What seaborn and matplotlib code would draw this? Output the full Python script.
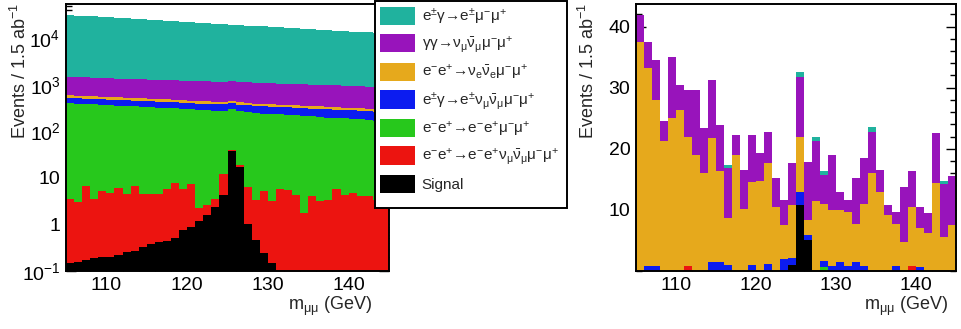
import numpy as np
import pandas as pd
import matplotlib
matplotlib.use("Agg")
import matplotlib.pyplot as plt
from matplotlib.patches import Patch, Rectangle
from matplotlib.ticker import FixedLocator, MultipleLocator, LogLocator, FuncFormatter, NullFormatter
import seaborn as sns

# ---------------------------------------------------------------- data
edges = [105.0 + i for i in range(41)]          # 1 GeV bins, 105-145 GeV
centers = [e + 0.5 for e in edges[:-1]]

processes = [
    r"e$^{\pm}$γ→e$^{\pm}$μ$^{-}$μ$^{+}$",
    r"γγ→ν$_{\mathregular{\mu}}\mathregular{\bar{\nu}_{\mu}}$μ$^{-}$μ$^{+}$",
    r"e$^{-}$e$^{+}$→ν$_{\mathregular{e}}\mathregular{\bar{\nu}_{e}}$μ$^{-}$μ$^{+}$",
    r"e$^{\pm}$γ→e$^{\pm}$ν$_{\mathregular{\mu}}\mathregular{\bar{\nu}_{\mu}}$μ$^{-}$μ$^{+}$",
    r"e$^{-}$e$^{+}$→e$^{-}$e$^{+}$μ$^{-}$μ$^{+}$",
    r"e$^{-}$e$^{+}$→e$^{-}$e$^{+}$ν$_{\mathregular{\mu}}\mathregular{\bar{\nu}_{\mu}}$μ$^{-}$μ$^{+}$",
    "Signal",
]
colors = ["#20b29e", "#9814bb", "#e6a91c", "#0c1cf0", "#27c81c", "#ec1410", "#000000"]

# before selection (log scale)
teal_pre = [30400, 29600, 28900, 28300, 27500, 26900, 26200, 25700, 25000, 24400,
            23800, 23300, 22700, 22200, 21600, 21100, 20600, 20100, 19700, 19200,
            18700, 18300, 17800, 17400, 17000, 16600, 16200, 15800, 15400, 15100,
            14700, 14400, 14000, 13700, 13400, 13100, 12800, 12500, 12200, 11900]
purple_pre = [900, 880, 870, 860, 850, 845, 830, 820, 815, 800,
              795, 790, 780, 775, 770, 760, 755, 750, 745, 740,
              735, 730, 720, 715, 705, 700, 690, 685, 675, 670,
              660, 655, 645, 640, 630, 625, 615, 610, 600, 595]
orange_pre = [76, 74, 73, 71, 70, 68, 67, 66, 64, 63,
              62, 60, 59, 58, 57, 55, 54, 53, 52, 51,
              50, 49, 48, 47, 46, 45, 44, 44, 43, 42,
              41, 41, 40, 40, 39, 39, 38, 38, 37, 37]
blue_pre = [118, 116, 117, 114, 115, 113, 114, 112, 113, 111,
            112, 110, 111, 109, 110, 108, 109, 107, 108, 106,
            107, 105, 106, 104, 104, 103, 102, 102, 101, 100,
            100, 99, 99, 98, 98, 97, 97, 96, 96, 95]
green_pre = [405, 395, 385, 380, 372, 365, 355, 350, 342, 335,
             328, 320, 312, 305, 300, 292, 286, 280, 274, 268,
             262, 255, 250, 244, 238, 232, 227, 222, 216, 211,
             206, 201, 196, 191, 186, 182, 177, 172, 168, 164]
red_pre = [3.3, 2.9, 6.6, 3.3, 5.0, 4.6, 6.0, 4.2, 6.6, 4.1,
           4.1, 4.2, 5.3, 7.4, 5.0, 6.4, 1.1, 1.0, 1.1, 7.7,
           1.0, 2.0, 5.2, 2.9, 5.0, 3.1, 5.7, 5.6, 4.4, 1.8,
           4.1, 3.2, 3.4, 5.7, 4.4, 4.8, 4.1, 4.0, 3.4, 3.4]
signal_pre = [0.15, 0.16, 0.17, 0.19, 0.20, 0.20, 0.22, 0.25, 0.27, 0.33,
              0.38, 0.42, 0.45, 0.50, 0.75, 0.90, 1.2, 1.6, 2.4, 4.3,
              38.0, 17.0, 1.05, 0.47, 0.24, 0.15, 0, 0, 0, 0,
              0, 0, 0, 0, 0, 0, 0, 0, 0, 0]

# after selection (linear scale)
teal_sel = [0, 0, 0, 0, 0, 0, 0, 0, 0, 0,
            0, 0.5, 0, 0, 0, 0, 0, 0, 0, 0,
            0.8, 0, 0.8, 0.7, 0, 0, 0, 0, 0, 0.9,
            0, 0, 0, 0, 0, 0, 0, 0, 0.5, 0]
purple_sel = [4.4, 4.2, 6.5, 3.3, 10.1, 4.0, 7.6, 10.6, 7.4, 9.5,
              7.6, 8.2, 3.3, 6.3, 7.8, 4.5, 5.0, 4.7, 4.1, 6.9,
              9.8, 9.6, 9.8, 4.7, 9.0, 3.0, 2.0, 7.5, 7.5, 6.7,
              3.5, 1.6, 2.0, 9.0, 5.8, 3.5, 3.2, 8.2, 8.6, 8.0]
orange_sel = [37.5, 32.4, 27.2, 21.2, 25.0, 26.4, 21.2, 19.0, 16.0, 20.3,
              14.8, 7.6, 19.0, 10.2, 13.5, 14.8, 16.6, 10.5, 5.5, 8.7,
              9.0, 2.4, 11.4, 9.4, 9.2, 8.5, 8.8, 6.2, 10.2, 16.0,
              13.0, 9.2, 6.9, 4.8, 9.7, 6.3, 6.3, 14.4, 5.6, 7.5]
blue_sel = [0, 0.8, 0.8, 0, 0, 0, 0, 0, 0, 1.5,
            1.5, 1.0, 0, 0, 1.0, 0, 1.1, 0, 2.0, 1.1,
            2.2, 0.9, 0, 1.0, 0.8, 1.5, 0.8, 1.5, 0.8, 0,
            0, 0, 0.8, 0, 0, 0.7, 0, 0, 0, 0]
green_sel = [0] * 23 + [0.6] + [0] * 16
red_sel = [0, 0, 0, 0, 0, 0, 0.8, 0, 0, 0,
           0, 0, 0, 0, 0, 0, 0, 0, 0, 0,
           0, 0, 0, 0, 0, 0, 0, 0, 0, 0,
           0, 0, 0, 0, 0.8, 0, 0, 0, 0, 0]
signal_sel = [0] * 19 + [1.0, 10.8, 5.0] + [0] * 18

pre_sel = [teal_pre, purple_pre, orange_pre, blue_pre, green_pre, red_pre, signal_pre]
post_sel = [teal_sel, purple_sel, orange_sel, blue_sel, green_sel, red_sel, signal_sel]

# ---------------------------------------------------------------- style
sns.set_style("ticks")
plt.rcParams.update({
    "font.family": ["Liberation Sans", "DejaVu Sans"],
    "mathtext.fontset": "custom",
    "mathtext.rm": "Liberation Sans",
    "mathtext.it": "Liberation Sans:italic",
    "mathtext.bf": "Liberation Sans:bold",
    "axes.linewidth": 1.4,
    "axes.edgecolor": "black",
})

palette = dict(zip(processes, colors))


def stacked(ax, series):
    frames = [pd.DataFrame({"mass": centers, "events": [float(x) for x in v], "process": p})
              for p, v in zip(processes, series)]
    df = pd.concat(frames, ignore_index=True)
    # seaborn stacks the last hue level at the bottom
    sns.histplot(data=df, x="mass", weights="events", hue="process",
                 hue_order=processes, multiple="stack", bins=edges,
                 element="step", fill=True, palette=palette, alpha=1,
                 linewidth=0, legend=False, ax=ax)


def style_axes(ax):
    ax.set_xlim(105, 145)
    ax.xaxis.set_major_locator(FixedLocator([110, 120, 130, 140]))
    ax.xaxis.set_minor_locator(MultipleLocator(2))
    ax.tick_params(which="both", direction="in", left=True, right=True,
                   bottom=True, top=False, colors="black", labelsize=14, width=1.0)
    ax.tick_params(which="major", length=7.2)
    ax.tick_params(which="minor", length=4)
    ax.tick_params(axis="x", pad=4)
    ax.tick_params(axis="y", pad=4)
    for s in ax.spines.values():
        s.set_visible(True)
        s.set_linewidth(1.4)


fig = plt.figure(figsize=(9.61, 3.29), dpi=100)
fig.patch.set_facecolor("white")

axL = fig.add_axes([66 / 961, 58 / 329, 323 / 961, 267 / 329])
axR = fig.add_axes([636 / 961, 58 / 329, 320 / 961, 267 / 329])

# left: before selection, log scale
stacked(axL, pre_sel)
axL.set_yscale("log")
axL.set_ylim(0.1, 5.5e4)
style_axes(axL)
axL.yaxis.set_major_locator(LogLocator(base=10, numticks=20))
axL.yaxis.set_minor_locator(LogLocator(base=10, subs=np.arange(2, 10), numticks=20))
axL.yaxis.set_minor_formatter(NullFormatter())


def log_label(v, pos):
    if np.isclose(v, 1):
        return "1"
    if np.isclose(v, 10):
        return "10"
    e = int(round(np.log10(v)))
    return r"$\mathregular{10^{%d}}$" % e


axL.yaxis.set_major_formatter(FuncFormatter(log_label))

# right: after selection, linear scale
stacked(axR, post_sel)
axR.set_ylim(0, 43.7)
style_axes(axR)
axR.yaxis.set_major_locator(FixedLocator([10, 20, 30, 40]))
axR.yaxis.set_minor_locator(MultipleLocator(2))

ylab = r"Events / 1.5 ab$^{\mathregular{-1}}$"
xlab = r"m$_{\mathregular{\mu\mu}}$ (GeV)"
for ax, xl_x, yl_x in [(axL, 0.947, -0.110), (axR, 0.975, -0.119)]:
    ax.set_ylabel(ylab, fontsize=13, loc="top")
    ax.yaxis.set_label_coords(yl_x, 1.005)
    ax.set_xlabel(xlab, fontsize=13, loc="right")
    ax.xaxis.set_label_coords(xl_x, -0.09)

# legend box overlapping the right edge of the left panel
x0, y0, x1, y1 = 375, 1, 567, 208
fig.add_artist(Rectangle((x0 / 961, 1 - y1 / 329), (x1 - x0) / 961, (y1 - y0) / 329,
                         transform=fig.transFigure, facecolor="white",
                         edgecolor="black", linewidth=1.4, zorder=3))
handles = [Patch(facecolor=c, edgecolor="none") for c in colors]
leg = fig.legend(handles, processes, loc="upper left",
                 bbox_to_anchor=(x0 / 961, 1 - y0 / 329), bbox_transform=fig.transFigure,
                 frameon=False, borderaxespad=0, borderpad=0.35, fontsize=11,
                 handlelength=2.3, handleheight=1.45, labelspacing=0.5,
                 handletextpad=0.4)
leg.set_zorder(4)

fig.savefig("out.png", dpi=100, facecolor="white")
